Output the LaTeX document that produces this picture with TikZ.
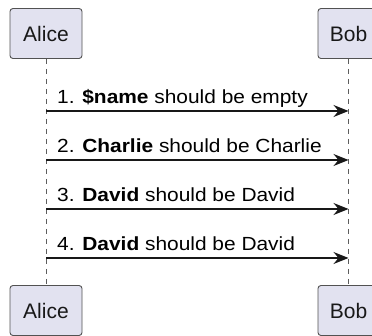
\documentclass[tikz,border=0pt]{standalone}
\usepackage{fontspec}
\setmainfont{Liberation Sans}
\newfontfamily\msgfont[FakeStretch=1.1]{Liberation Sans}
\usetikzlibrary{arrows.meta}
\definecolor{partfill}{HTML}{E2E2F0}
\definecolor{lineclr}{HTML}{181818}
\tikzset{
  partbox/.style={draw=lineclr!75, fill=partfill, line width=0.9pt, rounded corners=3pt,
    minimum height=50pt, inner sep=0pt, font=\fontsize{21}{25}\selectfont, text=lineclr},
  lifeline/.style={draw=lineclr!70, line width=0.7pt, dash pattern=on 5pt off 5pt},
  msgarrow/.style={draw=lineclr, line width=1.3pt, -{Stealth[length=15pt,width=12pt,inset=5pt]}},
  msglabel/.style={anchor=base west, inner sep=0pt, font=\msgfont\fontsize{19}{23}\selectfont, text=black}
}
\begin{document}
\begin{tikzpicture}[x=1pt,y=1pt]
\useasboundingbox (0,0) rectangle (372,-336);
\clip (0,0) rectangle (372,-336);
\node[partbox, minimum width=72pt] (aliceTop) at (46,-33.5) {Alice};
\node[partbox, minimum width=61pt] (bobTop) at (348.5,-33.5) {Bob};
\node[partbox, minimum width=72pt] (aliceBot) at (46,-310.5) {Alice};
\node[partbox, minimum width=61pt] (bobBot) at (348.5,-310.5) {Bob};
\draw[lifeline] (aliceTop.south) -- (aliceBot.north);
\draw[lifeline] (bobTop.south) -- (bobBot.north);
\foreach \i/\y in {1/111,2/160,3/209,4/258}{
  \coordinate (a\i) at (46,-\y);
  \coordinate (b\i) at (348.5,-\y);
  \draw[msgarrow] (a\i) -- (b\i);
}
\node[msglabel] (m1) at (57,-104) {1. \textbf{\$name} should be empty};
\node[msglabel] (m2) at (57,-153) {2. \textbf{Charlie} should be Charlie};
\node[msglabel] (m3) at (57,-202) {3. \textbf{David} should be David};
\node[msglabel] (m4) at (57,-251) {4. \textbf{David} should be David};
\end{tikzpicture}
\end{document}
